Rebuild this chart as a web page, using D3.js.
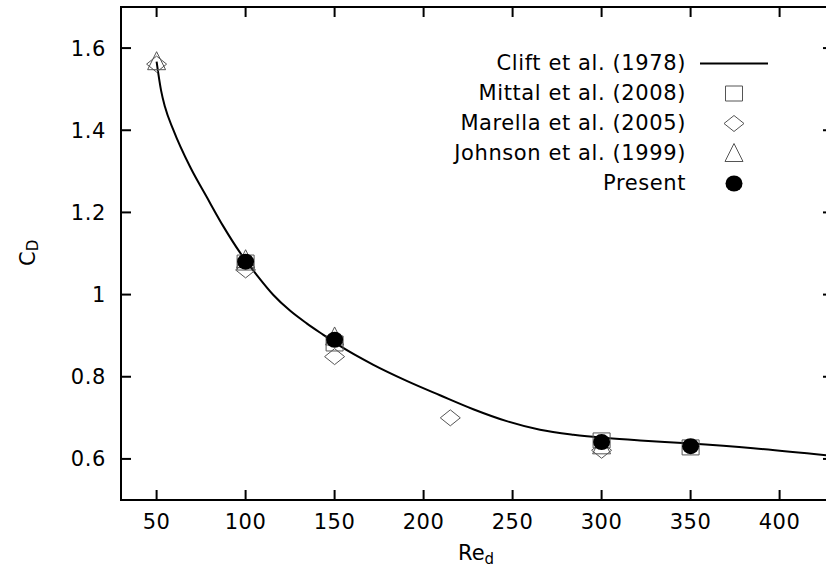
<!DOCTYPE html>
<html><head><meta charset="utf-8">
<script src="https://cdn.jsdelivr.net/npm/d3@7"></script>
<style>
html,body{margin:0;padding:0;background:#fff;}
text{font-family:"DejaVu Sans",sans-serif;fill:#000;}
</style></head>
<body><svg id="c" width="826" height="567"></svg>
<script>
// ---- data ----
const cliftRe = [50, 52.5, 54.7, 59.4, 68.8, 78.1, 87.5, 96.9, 106.2, 115.6, 124.9, 134.3, 143.7, 153, 171.8, 190.5, 209.2, 227.9, 246.7, 265.4, 284.1, 302.9, 321.6, 347.8, 385.2, 430];
const cliftCd = [1.567, 1.497, 1.457, 1.401, 1.311, 1.238, 1.166, 1.102, 1.048, 0.999, 0.961, 0.930, 0.902, 0.875, 0.829, 0.790, 0.755, 0.721, 0.692, 0.671, 0.659, 0.651, 0.645, 0.638, 0.626, 0.607];
const mittalRe = [100, 150, 300, 350];
const mittalCd = [1.078, 0.881, 0.645, 0.628];
const marellaRe = [50, 100, 150, 215, 300];
const marellaCd = [1.561, 1.06, 0.849, 0.700, 0.621];
const johnsonRe = [50, 100, 150, 300];
const johnsonCd = [1.562, 1.08, 0.892, 0.627];
const presentRe = [100, 150, 300, 350];
const presentCd = [1.08, 0.89, 0.641, 0.631];
const xTicks = [50, 100, 150, 200, 250, 300, 350, 400];
const yTicks = [0.6, 0.8, 1.0, 1.2, 1.4, 1.6];
const yTickLabels = ["0.6", "0.8", "1", "1.2", "1.4", "1.6"];
const legendLabels = ["Clift et al. (1978)", "Mittal et al. (2008)", "Marella et al. (2005)", "Johnson et al. (1999)", "Present"];

// ---- layout ----
const L = 121, R = 833, T = 7, B = 500;
const svg = d3.select("#c");
const x = d3.scaleLinear().domain([30, 430]).range([L, R]);
const y = d3.scaleLinear().domain([0.5, 1.7]).range([B, T]);
const FS = 21, TICK = 10;

svg.append("defs").append("clipPath").attr("id","clip")
  .append("rect").attr("x",L).attr("y",T).attr("width",R-L).attr("height",B-T);

// frame
svg.append("rect").attr("x",L).attr("y",T).attr("width",R-L).attr("height",B-T)
  .attr("fill","none").attr("stroke","#000").attr("stroke-width",2);

// ticks
const g = svg.append("g").attr("stroke","#000").attr("stroke-width",2);
xTicks.forEach(v=>{
  g.append("line").attr("x1",x(v)).attr("x2",x(v)).attr("y1",B).attr("y2",B-TICK);
  g.append("line").attr("x1",x(v)).attr("x2",x(v)).attr("y1",T).attr("y2",T+TICK);
});
yTicks.forEach(v=>{
  g.append("line").attr("x1",L).attr("x2",L+TICK).attr("y1",y(v)).attr("y2",y(v));
  g.append("line").attr("x1",R).attr("x2",R-TICK).attr("y1",y(v)).attr("y2",y(v));
});
xTicks.forEach(v=>{
  svg.append("text").attr("x",x(v)).attr("y",529).attr("text-anchor","middle")
    .attr("font-size",FS).attr("letter-spacing",0.6).text(v);
});
yTicks.forEach((v,i)=>{
  svg.append("text").attr("x",106).attr("y",y(v)).attr("dy","0.36em").attr("text-anchor","end")
    .attr("font-size",FS).attr("letter-spacing",0.6).text(yTickLabels[i]);
});

// axis titles
const xt = svg.append("text").attr("x",458).attr("y",560).attr("font-size",FS);
xt.append("tspan").text("Re");
xt.append("tspan").attr("font-size",15).attr("dy",4).text("d");
const yt = svg.append("text").attr("transform","translate(35,266) rotate(-90)").attr("font-size",FS);
yt.append("tspan").text("C");
yt.append("tspan").attr("font-size",15).attr("dy",3).text("D");

// symbol paths
const sq = (w,h)=>`M${-w/2},${-h/2}h${w}v${h}h${-w}Z`;
const dia = (w,h)=>`M0,${-h/2}L${w/2},0L0,${h/2}L${-w/2},0Z`;
const tri = (w,h)=>`M0,${-h*2/3}L${w/2},${h/3}L${-w/2},${h/3}Z`;
const SQ = sq(17,15), DI = dia(20,16), TR = tri(18,18);

const plot = svg.append("g").attr("clip-path","url(#clip)");
const line = d3.line().x(d=>x(d[0])).y(d=>y(d[1])).curve(d3.curveMonotoneX);
plot.append("path").datum(cliftRe.map((r,i)=>[r,cliftCd[i]]))
  .attr("d",line).attr("fill","none").attr("stroke","#000").attr("stroke-width",2);

const MC = "#555";
function pts(re, cd, path){
  plot.selectAll(null).data(re.map((r,i)=>[r,cd[i]])).enter().append("path")
    .attr("d",path).attr("transform",d=>`translate(${x(d[0])},${y(d[1])})`)
    .attr("fill","none").attr("stroke",MC).attr("stroke-width",1);
}
pts(mittalRe, mittalCd, SQ);
pts(marellaRe, marellaCd, DI);
pts(johnsonRe, johnsonCd, TR);
plot.selectAll(null).data(presentRe.map((r,i)=>[r,presentCd[i]])).enter().append("ellipse")
  .attr("cx",d=>x(d[0])).attr("cy",d=>y(d[1])).attr("rx",8.5).attr("ry",8).attr("fill","#000");

// legend
const lg = svg.append("g");
const sx = 734;
legendLabels.forEach((t,i)=>{
  const cy = 63.5 + 30*i;
  lg.append("text").attr("x",686).attr("y",cy-1).attr("dy","0.36em").attr("text-anchor","end")
    .attr("font-size",FS).attr("letter-spacing",0.6).text(t);
});
lg.append("line").attr("x1",700).attr("x2",768).attr("y1",63.5).attr("y2",63.5).attr("stroke","#000").attr("stroke-width",2);
lg.append("path").attr("d",SQ).attr("transform",`translate(${sx},${93.5})`).attr("fill","none").attr("stroke",MC);
lg.append("path").attr("d",DI).attr("transform",`translate(${sx},${123.5})`).attr("fill","none").attr("stroke",MC);
lg.append("path").attr("d",TR).attr("transform",`translate(${sx},${155.5})`).attr("fill","none").attr("stroke",MC);
lg.append("ellipse").attr("cx",sx).attr("cy",183.5).attr("rx",8.5).attr("ry",8).attr("fill","#000");
</script></body></html>
